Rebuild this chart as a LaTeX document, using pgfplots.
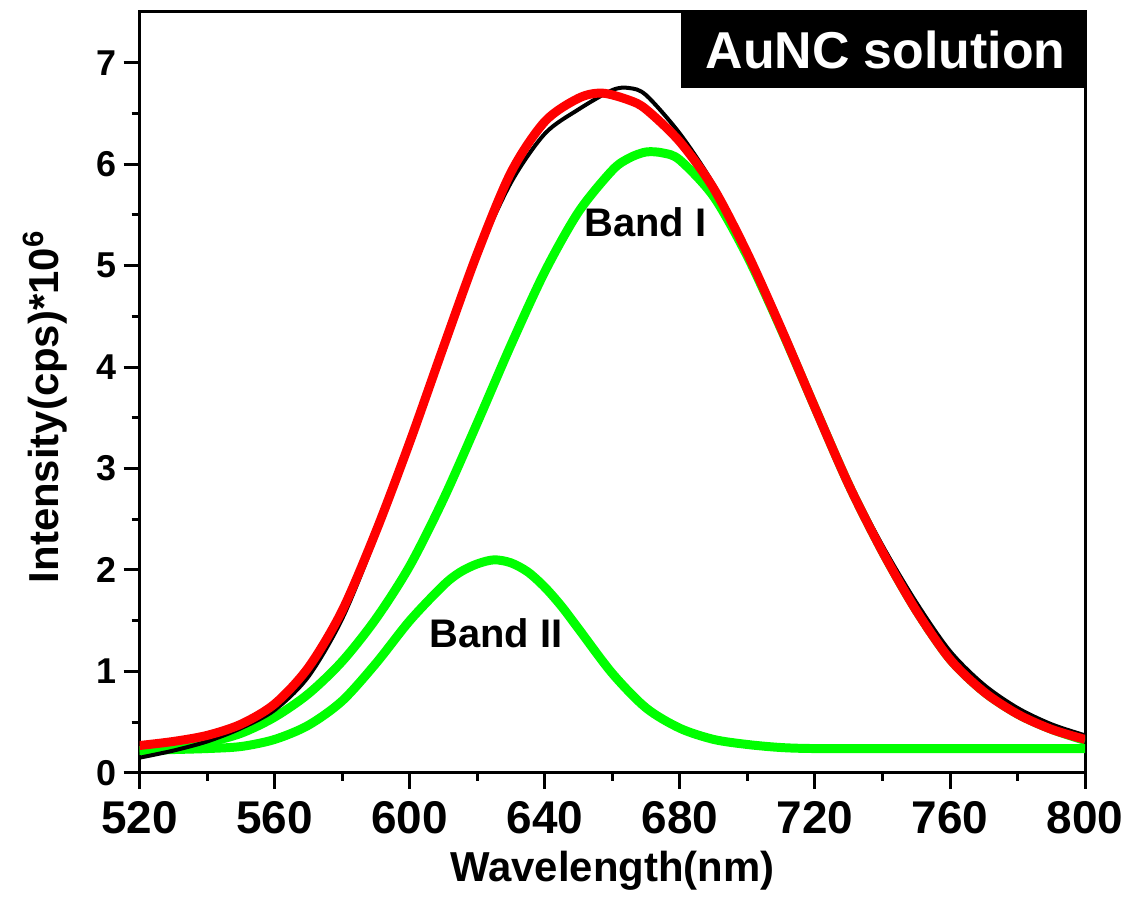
\documentclass[border=0pt]{standalone}
\usepackage{fontspec}
\setmainfont{Liberation Sans}
\usepackage{pgfplots}
\pgfplotsset{compat=1.18}
\definecolor{fitred}{RGB}{255,0,0}
\definecolor{bandgreen}{RGB}{0,255,0}
\begin{document}
\begin{tikzpicture}
\begin{axis}[
  name=ax,
  scale only axis, width=474pt, height=381.5pt,
  xmin=520, xmax=800, ymin=0, ymax=7.5,
  xtick={520,560,...,800}, ytick={0,1,...,7},
  minor x tick num=1, minor y tick num=1,
  tick pos=left, tick align=outside,
  major tick length=8pt, minor tick length=4pt,
  axis line style={line width=1.5pt},
  every tick/.style={line width=1.5pt, black},
  /pgf/number format/assume math mode=true,
  xticklabel style={font=\fontsize{23}{23}\selectfont\bfseries, yshift=-3pt},
  yticklabel style={font=\fontsize{18}{18}\selectfont\bfseries},
  xlabel={Wavelength(nm)},
  ylabel={Intensity(cps)*10\textsuperscript{6}},
  label style={font=\fontsize{21}{21}\selectfont\bfseries},
  xlabel style={at={(rel axis cs:0.5,-0.128)}, anchor=center},
  ylabel style={at={(rel axis cs:-0.1,0.481)}, anchor=center},
]
% Band II (green)
\addplot[bandgreen, line width=4.5pt, smooth] coordinates {
(520,0.22) (530,0.23) (540,0.24) (550,0.26) (560,0.33) (570,0.47) (580,0.71)
(590,1.08) (600,1.50) (610,1.85) (615,1.98) (620,2.06) (625,2.10) (630,2.07)
(635,1.98) (640,1.83) (645,1.64) (650,1.42) (660,0.98) (670,0.64) (680,0.44)
(690,0.33) (700,0.28) (710,0.25) (720,0.24) (740,0.24) (760,0.24) (780,0.24) (800,0.24)};
% Band I (green)
\addplot[bandgreen, line width=4.5pt, smooth] coordinates {
(520,0.22) (530,0.25) (540,0.30) (550,0.39) (560,0.55) (570,0.78) (580,1.10)
(590,1.52) (600,2.04) (610,2.70) (620,3.45) (630,4.22) (640,4.94) (650,5.53)
(660,5.94) (665,6.06) (670,6.12) (675,6.11) (680,6.04) (690,5.68) (700,5.09) (710,4.37)
(720,3.60) (730,2.84) (740,2.18) (750,1.60) (760,1.12) (770,0.80) (780,0.58)
(790,0.43) (800,0.32)};
% experimental (black)
\addplot[black, line width=2pt, smooth] coordinates {
(520,0.15) (530,0.22) (540,0.31) (550,0.44) (560,0.62) (570,0.95) (580,1.52)
(590,2.33) (600,3.24) (610,4.20) (620,5.10) (630,5.82) (640,6.30) (650,6.54)
(660,6.73) (665,6.75) (670,6.68) (680,6.30) (690,5.80) (700,5.16) (710,4.42)
(720,3.64) (730,2.88) (740,2.24) (750,1.68) (760,1.20) (770,0.87) (780,0.64)
(790,0.48) (800,0.37)};
% fit sum (red)
\addplot[fitred, line width=4.5pt, smooth] coordinates {
(520,0.27) (530,0.31) (540,0.37) (550,0.48) (560,0.68) (570,1.04) (580,1.60)
(590,2.38) (600,3.26) (610,4.20) (620,5.12) (630,5.92) (640,6.42) (650,6.65)
(657,6.70) (665,6.63) (670,6.54) (680,6.22) (690,5.76) (700,5.12) (710,4.38)
(720,3.60) (730,2.84) (740,2.18) (750,1.60) (760,1.12) (770,0.80) (780,0.58)
(790,0.43) (800,0.33)};
\node[font=\fontsize{20}{20}\selectfont\bfseries] at (axis cs:669.8,5.43) {Band I};
\node[font=\fontsize{20}{20}\selectfont\bfseries] at (axis cs:625.5,1.38) {Band II};
\fill[black] (rel axis cs:0.5728,0.9004) rectangle (rel axis cs:1,1);
\node[text=white, font=\fontsize{26}{26}\selectfont\bfseries] at (rel axis cs:0.789,0.950) {AuNC solution};
\end{axis}
\path ([shift={(-70pt,-57.5pt)}]ax.south west) rectangle ([shift={(21pt,6pt)}]ax.north east);
\end{tikzpicture}
\end{document}
